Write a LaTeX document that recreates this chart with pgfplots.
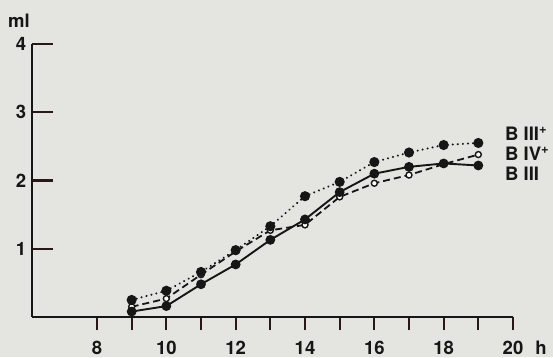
\documentclass[border=0pt]{standalone}
\usepackage{pgfplots}
\pgfplotsset{compat=1.18}
\usepackage{fontspec}
\setmainfont{TeX Gyre Heros}
\definecolor{bg}{RGB}{228,228,225}
\definecolor{ink}{RGB}{22,22,22}
\definecolor{tickc}{RGB}{40,24,24}
\begin{document}
\begin{tikzpicture}
\fill[bg] (-32pt,-40pt) rectangle (521pt,317pt);
\useasboundingbox (-32pt,-40pt) rectangle (521pt,317pt);
\pgfplotsset{common/.style={scale only axis, clip=false,
  font=\fontsize{18.5}{20}\selectfont\bfseries,
  /pgf/number format/assume math mode=true}}
% y ticks (inside) drawn as short grid lines
\begin{axis}[common, at={(0pt,0pt)}, anchor=south west,
  width=21pt, height=273pt, xmin=0, xmax=1, ymin=0, ymax=4,
  ytick={1,2,3,4}, xtick=\empty, ymajorgrids,
  major grid style={draw=tickc, line width=2.2pt},
  axis line style={draw=none}, tick style={draw=none},
  yticklabel style={anchor=center, xshift=-11pt, text=ink}]
\end{axis}
% x ticks (outside) drawn as short grid lines
\begin{axis}[common, at={(0pt,0pt)}, anchor=north west,
  width=481pt, height=13pt, xmin=6.125, xmax=20, ymin=0, ymax=1,
  xtick={8,...,20}, xticklabels={8,,10,,12,,14,,16,,18,,20},
  ytick=\empty, xmajorgrids,
  major grid style={draw=tickc, line width=2.2pt},
  axis line style={draw=none}, tick style={draw=none},
  xticklabel style={anchor=base, inner sep=0pt, yshift=-24pt, text=ink}]
\end{axis}
% axis lines and data
\begin{axis}[common, at={(0pt,0pt)}, anchor=south west,
  width=481pt, height=273pt,
  xmin=6.125, xmax=20, ymin=0, ymax=4,
  axis x line*=bottom, axis y line*=left,
  axis line style={draw=ink, line width=2.2pt},
  xtick=\empty, ytick=\empty]
\addplot[ink, line width=1.8pt, dash pattern=on 7pt off 4pt,
  mark=*, mark size=3pt, mark options={solid, fill=white, line width=1.4pt}]
  coordinates {(9,0.15) (10,0.27) (11,0.62) (12,0.96) (13,1.27) (14,1.35) (15,1.76) (16,1.96) (17,2.08) (18,2.24) (19,2.38)};
\addplot[ink, line width=1.9pt, mark=*, mark size=3.9pt, mark options={solid}]
  coordinates {(9,0.08) (10,0.16) (11,0.48) (12,0.77) (13,1.13) (14,1.43) (15,1.83) (16,2.10) (17,2.20) (18,2.25) (19,2.22)};
\addplot[ink, line width=2.2pt, dash pattern=on 0.1pt off 5pt, line cap=round,
  mark=*, mark size=3.9pt, mark options={solid}]
  coordinates {(9,0.25) (10,0.385) (11,0.66) (12,0.98) (13,1.33) (14,1.77) (15,1.98) (16,2.27) (17,2.41) (18,2.52) (19,2.55)};
\end{axis}
\begin{scope}[font=\fontsize{18.5}{20}\selectfont\bfseries, text=ink]
\node at (-13pt,296pt) {ml};
\node[anchor=base, inner sep=0pt] at (509pt,-37pt) {h};
\node[anchor=base west, inner sep=0pt] at (473pt,177pt) {B III\textsuperscript{+}};
\node[anchor=base west, inner sep=0pt] at (473pt,157pt) {B IV\textsuperscript{+}};
\node[anchor=base west, inner sep=0pt] at (473pt,137pt) {B III};
\end{scope}
\end{tikzpicture}
\end{document}
